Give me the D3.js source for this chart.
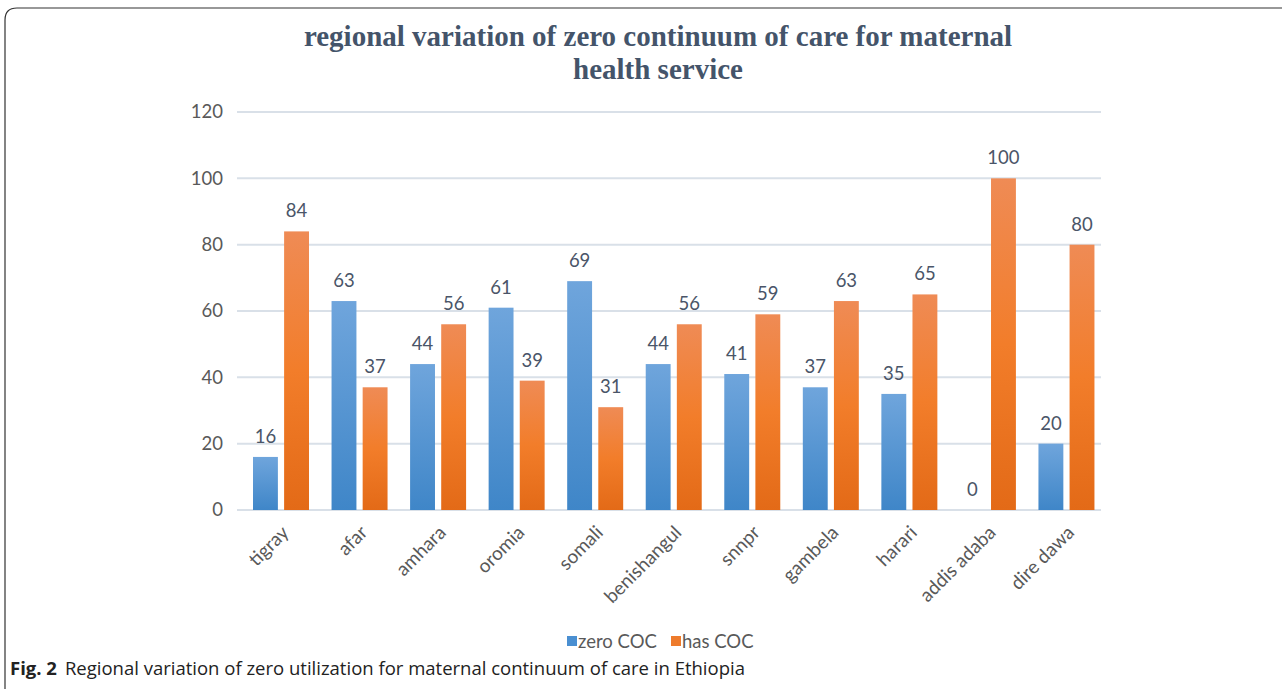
<!DOCTYPE html>
<html><head><meta charset="utf-8">
<script src="https://cdn.jsdelivr.net/npm/d3@7"></script>
<style>body{margin:0;background:#fff}</style>
</head><body>
<svg id="c" width="1282" height="689"></svg>
<script>
const categories = ["tigray","afar","amhara","oromia","somali","benishangul","snnpr","gambela","harari","addis adaba","dire dawa"];
const zeroCOC = [16,63,44,61,69,44,41,37,35,0,20];
const hasCOC = [84,37,56,39,31,56,59,63,65,100,80];
const seriesNames = ["zero COC","has COC"];
const yTicks = [0,20,40,60,80,100,120];

const FONT = "Lato, 'Open Sans', sans-serif";
const svg = d3.select("#c");
const defs = svg.append("defs");
const gb = defs.append("linearGradient").attr("id","gb").attr("x1",0).attr("y1",0).attr("x2",0).attr("y2",1);
gb.append("stop").attr("offset","0%").attr("stop-color","#6fa5dc");
gb.append("stop").attr("offset","100%").attr("stop-color","#3f86c8");
const go = defs.append("linearGradient").attr("id","go").attr("x1",0).attr("y1",0).attr("x2",0).attr("y2",1);
go.append("stop").attr("offset","0%").attr("stop-color","#ef8b55");
go.append("stop").attr("offset","50%").attr("stop-color","#f27d2a");
go.append("stop").attr("offset","100%").attr("stop-color","#e36a17");

// outer frame
svg.append("path").attr("d","M5,700 L5,20 Q5,8 17,8 L1295,8").attr("fill","none").attr("stroke","#333").attr("stroke-width",1.2);

const x0 = d3.scaleBand().domain(categories).range([237,1101]).paddingInner(0).paddingOuter(0);
const y = d3.scaleLinear().domain([0,120]).range([510,112]);
const x1 = d3.scaleBand().domain(seriesNames).range([16,72]).paddingInner(0.2);

// gridlines
svg.append("g").selectAll("line").data(yTicks).join("line")
  .attr("x1",237).attr("x2",1101).attr("y1",d=>y(d)).attr("y2",d=>y(d))
  .attr("stroke","#d9e0e8").attr("stroke-width",2);

// y axis labels
const yAxis = d3.axisLeft(y).tickValues(yTicks).tickSize(0).tickPadding(0);
const ya = svg.append("g").attr("transform","translate(223,0)").call(yAxis);
ya.select(".domain").remove();
ya.selectAll("text").attr("font-family",FONT).attr("font-size",18.5).attr("fill","#595959");

const data = categories.map((c,i)=>({c, v:[zeroCOC[i],hasCOC[i]]}));
const groups = svg.append("g").selectAll("g").data(data).join("g").attr("transform",d=>`translate(${x0(d.c)},0)`);
groups.selectAll("rect").data(d=>d.v.map((v,j)=>({k:seriesNames[j],v,j}))).join("rect")
  .attr("x",d=>x1(d.k)).attr("width",x1.bandwidth())
  .attr("y",d=>y(d.v)).attr("height",d=>y(0)-y(d.v))
  .attr("fill",d=>d.j===0?"url(#gb)":"url(#go)");
groups.selectAll("text").data(d=>d.v.map((v,j)=>({k:seriesNames[j],v,j}))).join("text")
  .attr("x",d=>x1(d.k)+x1.bandwidth()/2).attr("y",d=>y(d.v)-14)
  .attr("text-anchor","middle").attr("font-family",FONT).attr("font-size",18.5).attr("fill","#4a5568")
  .text(d=>d.v);

// x labels rotated
const xAxis = d3.axisBottom(x0).tickSize(0).tickPadding(0);
const xa = svg.append("g").attr("transform","translate(0,0)").call(xAxis);
xa.select(".domain").remove();
xa.selectAll(".tick").attr("transform",d=>`translate(${x0(d)+x0.bandwidth()/2+9},529)`);
xa.selectAll("text").attr("font-family",FONT).attr("font-size",19).attr("fill","#595959")
  .attr("text-anchor","end").attr("x",0).attr("y",0).attr("dy","0.35em")
  .attr("transform","rotate(-45)");

// title
const title = svg.append("text").attr("text-anchor","middle").attr("font-family","'Liberation Serif', 'DejaVu Serif', serif")
  .attr("font-weight","bold").attr("font-size",29).attr("fill","#44546a");
title.append("tspan").attr("x",658).attr("y",46).text("regional variation of zero continuum of care for maternal");
title.append("tspan").attr("x",658).attr("y",79).text("health service");

// legend
const lg = svg.append("g").attr("font-family",FONT).attr("font-size",18.5).attr("fill","#595959");
const legendX = [567,671];
seriesNames.forEach((s,i)=>{
  lg.append("rect").attr("x",legendX[i]).attr("y",636).attr("width",10).attr("height",10).attr("fill",i===0?"#4a8fd1":"#ee7b2c");
  lg.append("text").attr("x",legendX[i]+11).attr("y",648).text(s);
});

// caption
const cap = svg.append("text").attr("x",10).attr("y",675).attr("font-family","'Open Sans', sans-serif").attr("font-size",18.5).attr("fill","#222");
cap.append("tspan").attr("font-weight","bold").text("Fig. 2");
cap.append("tspan").attr("dx",8).text("Regional variation of zero utilization for maternal continuum of care in Ethiopia");
</script>
</body></html>
